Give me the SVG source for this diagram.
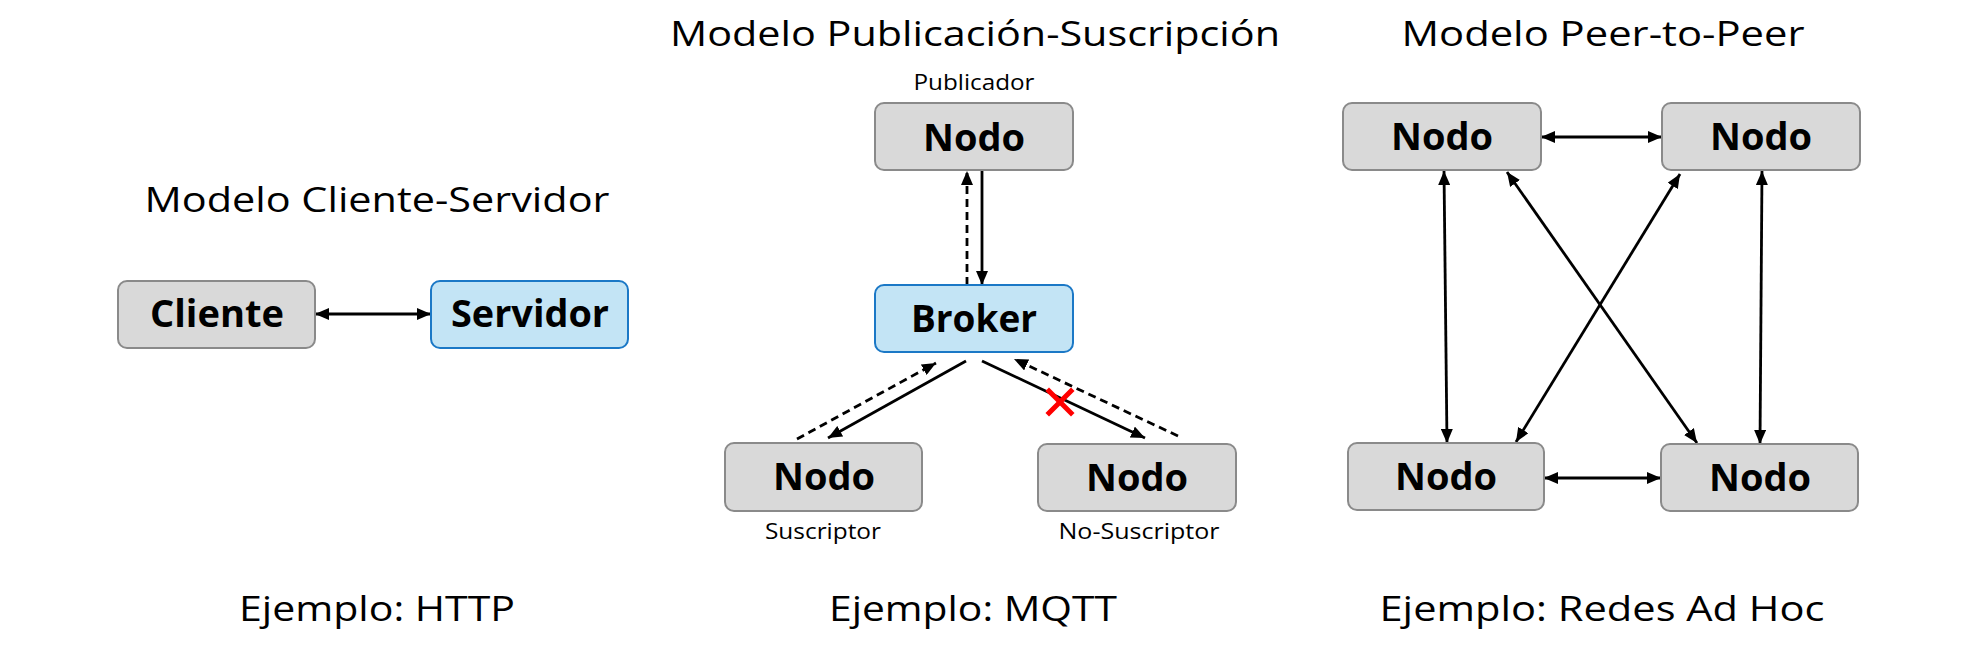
<svg xmlns="http://www.w3.org/2000/svg" width="1978" height="659" viewBox="0 0 1978 659">
<style>
.bg{fill:#ffffff}
.gray{fill:#d9d9d9;stroke:#8a8a8a;stroke-width:2}
.blue{fill:#c3e4f5;stroke:#1b78c6;stroke-width:2}
.lbl{font-family:"Open Sans","Liberation Sans",sans-serif;font-weight:bold;font-size:38px;fill:#000;text-anchor:middle}
.title{font-family:"Open Sans","Liberation Sans",sans-serif;font-size:34px;fill:#000;text-anchor:middle}
.small{font-family:"Open Sans","Liberation Sans",sans-serif;font-size:22px;fill:#000;text-anchor:middle}
.c{stroke:#000;stroke-width:2.8;fill:none}
.one{marker-end:url(#ah)}
.two{marker-start:url(#ah);marker-end:url(#ah)}
.dash{stroke-dasharray:8,5}
.x{stroke:#ff0000;stroke-width:5;stroke-linecap:square}
</style>
<defs>
<marker id="ah" markerUnits="userSpaceOnUse" markerWidth="14" markerHeight="12" refX="14" refY="6" orient="auto-start-reverse" viewBox="0 0 14 12">
<path d="M0,0 L14,6 L0,12 z" fill="#000"/>
</marker>
</defs>
<rect class="bg" x="0" y="0" width="1978" height="659"/>

<g id="titles">
<text class="title" x="377" y="212" textLength="465" lengthAdjust="spacingAndGlyphs">Modelo Cliente-Servidor</text>
<text class="title" x="975" y="46" textLength="610" lengthAdjust="spacingAndGlyphs">Modelo Publicación-Suscripción</text>
<text class="title" x="1603" y="46" textLength="403" lengthAdjust="spacingAndGlyphs">Modelo Peer-to-Peer</text>
<text class="title" x="377" y="621" textLength="276" lengthAdjust="spacingAndGlyphs">Ejemplo: HTTP</text>
<text class="title" x="973" y="621" textLength="288" lengthAdjust="spacingAndGlyphs">Ejemplo: MQTT</text>
<text class="title" x="1602" y="621" textLength="445" lengthAdjust="spacingAndGlyphs">Ejemplo: Redes Ad Hoc</text>
</g>

<g id="connectors">
<line class="c two" x1="315" y1="314" x2="431" y2="314"/>
<line class="c one dash" x1="967" y1="285" x2="967" y2="171"/>
<line class="c one" x1="982" y1="170" x2="982" y2="285"/>
<line class="c one dash" x1="797" y1="439" x2="936" y2="363"/>
<line class="c one" x1="966" y1="361" x2="828" y2="438"/>
<line class="c one" x1="982" y1="361" x2="1145" y2="438"/>
<line class="c one dash" x1="1178" y1="436" x2="1014" y2="359"/>
<line class="c two" x1="1541" y1="137" x2="1662" y2="137"/>
<line class="c two" x1="1544" y1="478" x2="1661" y2="478"/>
<line class="c two" x1="1444" y1="171" x2="1447" y2="443"/>
<line class="c two" x1="1762" y1="171" x2="1760" y2="444"/>
<line class="c two" x1="1507" y1="172" x2="1697" y2="443"/>
<line class="c two" x1="1680" y1="174" x2="1516" y2="442"/>
</g>

<g id="blocked">
<line class="x" x1="1049" y1="391" x2="1071" y2="413"/>
<line class="x" x1="1071" y1="391" x2="1049" y2="413"/>
</g>

<g id="cliente">
<rect class="gray" x="118" y="281" width="197" height="67" rx="9"/>
<text class="lbl" x="217" y="327" textLength="134" lengthAdjust="spacingAndGlyphs">Cliente</text>
</g>
<g id="servidor">
<rect class="blue" x="431" y="281" width="197" height="67" rx="9"/>
<text class="lbl" x="530" y="327" textLength="158" lengthAdjust="spacingAndGlyphs">Servidor</text>
</g>

<g id="publicador">
<text class="small" x="974" y="90" textLength="121" lengthAdjust="spacingAndGlyphs">Publicador</text>
<rect class="gray" x="875" y="103" width="198" height="67" rx="9"/>
<text class="lbl" x="974" y="151" textLength="102" lengthAdjust="spacingAndGlyphs">Nodo</text>
</g>
<g id="broker">
<rect class="blue" x="875" y="285" width="198" height="67" rx="9"/>
<text class="lbl" x="974" y="332" textLength="126" lengthAdjust="spacingAndGlyphs">Broker</text>
</g>
<g id="suscriptor">
<rect class="gray" x="725" y="443" width="197" height="68" rx="9"/>
<text class="lbl" x="824" y="490" textLength="102" lengthAdjust="spacingAndGlyphs">Nodo</text>
<text class="small" x="823" y="539" textLength="116" lengthAdjust="spacingAndGlyphs">Suscriptor</text>
</g>
<g id="nosuscriptor">
<rect class="gray" x="1038" y="444" width="198" height="67" rx="9"/>
<text class="lbl" x="1137" y="491" textLength="102" lengthAdjust="spacingAndGlyphs">Nodo</text>
<text class="small" x="1139" y="539" textLength="161" lengthAdjust="spacingAndGlyphs">No-Suscriptor</text>
</g>

<g id="p2p-tl">
<rect class="gray" x="1343" y="103" width="198" height="67" rx="9"/>
<text class="lbl" x="1442" y="150" textLength="102" lengthAdjust="spacingAndGlyphs">Nodo</text>
</g>
<g id="p2p-tr">
<rect class="gray" x="1662" y="103" width="198" height="67" rx="9"/>
<text class="lbl" x="1761" y="150" textLength="102" lengthAdjust="spacingAndGlyphs">Nodo</text>
</g>
<g id="p2p-bl">
<rect class="gray" x="1348" y="443" width="196" height="67" rx="9"/>
<text class="lbl" x="1446" y="490" textLength="102" lengthAdjust="spacingAndGlyphs">Nodo</text>
</g>
<g id="p2p-br">
<rect class="gray" x="1661" y="444" width="197" height="67" rx="9"/>
<text class="lbl" x="1760" y="491" textLength="102" lengthAdjust="spacingAndGlyphs">Nodo</text>
</g>
</svg>
